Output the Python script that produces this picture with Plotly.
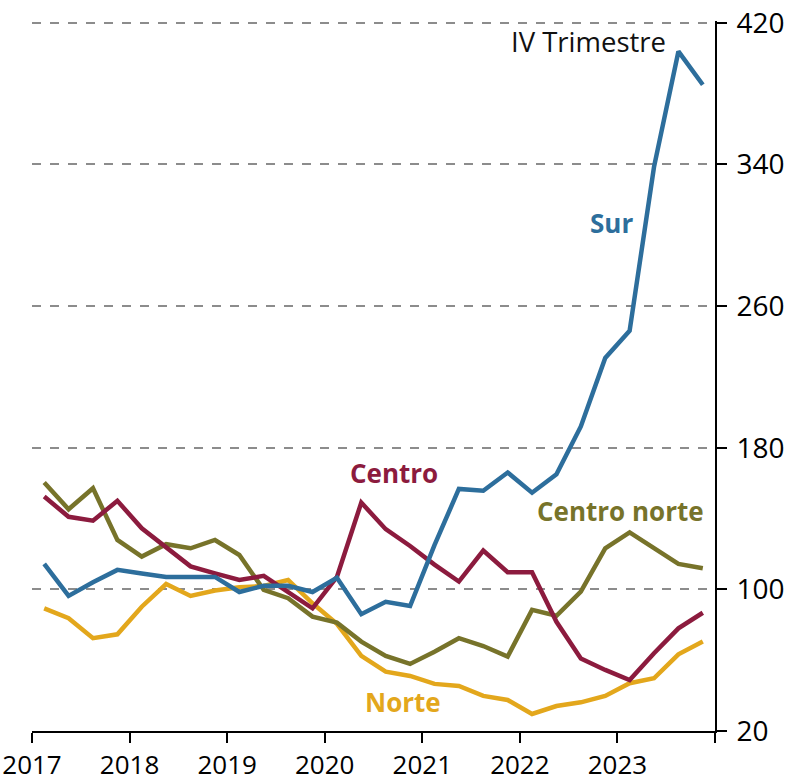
import plotly.graph_objects as go

years = [2017, 2018, 2019, 2020, 2021, 2022, 2023]
quarters = [1, 2, 3, 4]
x_vals = [y + (q - 0.5) / 4 for y in years for q in quarters]

sur = [114.4, 96.3, 104, 111, 109, 107, 107, 107, 98.5, 102, 102, 98.5, 106.5, 86, 93, 90.6,
       125, 156.7, 155.7, 166, 154.6, 165, 192, 230.7, 246, 338.6, 403.8, 385]
centro = [152.4, 141, 138.8, 150, 134.5, 123.8, 113, 109, 105.3, 107.6, 98.7, 89.3, 107, 149, 134, 124.5,
          114, 104.4, 121.9, 109.7, 109.7, 81.7, 61, 54.5, 48.8, 63.9, 78, 86.8]
centro_norte = [160.3, 145.2, 157.1, 127.9, 118.5, 125.5, 123.2, 127.9, 119.4, 99.7, 95, 84.6, 81.2, 70.5, 62.4, 57.9,
                64.8, 72.4, 68, 62, 88.4, 85.1, 98.7, 123.2, 132.2, 123.2, 114.4, 111.9]
norte = [89.3, 83.7, 72.4, 74.6, 90.2, 103, 96.3, 99.3, 101.2, 101.9, 105.3, 92.1, 80.5, 62.4, 53.5, 51.1,
         46.6, 45.4, 39.8, 37.5, 29.6, 34.1, 36.2, 39.8, 47, 49.8, 63.3, 70.5]

x_ticks = [2017, 2018, 2019, 2020, 2021, 2022, 2023, 2024]
x_ticktext = ["2017", "2018", "2019", "2020", "2021", "2022", "2023", ""]
y_ticks = [20, 100, 180, 260, 340, 420]

series = [
    ("Norte", norte, "#E3A71C"),
    ("Centro norte", centro_norte, "#77732A"),
    ("Centro", centro, "#8C1B3E"),
    ("Sur", sur, "#2D6E9C"),
]

fig = go.Figure()
for name, vals, color in series:
    fig.add_trace(go.Scatter(x=x_vals, y=vals, mode="lines", name=name,
                             line=dict(color=color, width=4.5), showlegend=False))

FONT = "Open Sans"
labels = [
    ("IV Trimestre", 2022.70, 409.3, "#111111", False, 27.5),
    ("Sur", 2022.94, 307, "#2D6E9C", True, 26),
    ("Centro", 2020.715, 165.8, "#8C1B3E", True, 26),
    ("Centro norte", 2023.03, 144.3, "#77732A", True, 26),
    ("Norte", 2020.80, 36.4, "#E3A71C", True, 26),
]
for text, x, y, color, bold, size in labels:
    fig.add_annotation(x=x, y=y, xref="x", yref="y", showarrow=False,
                       text=f"<b>{text}</b>" if bold else text,
                       font=dict(family=FONT, size=size, color=color),
                       xanchor="center", yanchor="middle")

fig.update_layout(
    width=794, height=782,
    margin=dict(l=32, r=79, t=21, b=51, autoexpand=False),
    plot_bgcolor="white", paper_bgcolor="white",
    font=dict(family=FONT, size=28, color="black"),
    xaxis=dict(range=[2017, 2024], tickvals=x_ticks, ticktext=x_ticktext, automargin=False,
               showgrid=False, zeroline=False, showline=True, linecolor="black", linewidth=2,
               ticks="outside", ticklen=10, tickwidth=2, tickcolor="black",
               ticklabelstandoff=0, ticklabeloverflow="allow",
               tickfont=dict(family=FONT, size=26, color="black")),
    yaxis=dict(range=[20, 421], tickvals=y_ticks, side="right", automargin=False,
               showgrid=True, gridcolor="#8c8c8c", gridwidth=1.5, griddash="dash",
               zeroline=False, showline=True, linecolor="black", linewidth=2,
               ticks="outside", ticklen=10, tickwidth=2, tickcolor="black",
               ticklabelstandoff=4, ticklabeloverflow="allow",
               tickfont=dict(family=FONT, size=28, color="black")),
)

fig.write_html("out.html", config={"displayModeBar": False},
               post_script="document.body.style.margin='0';document.body.style.overflow='hidden';")
